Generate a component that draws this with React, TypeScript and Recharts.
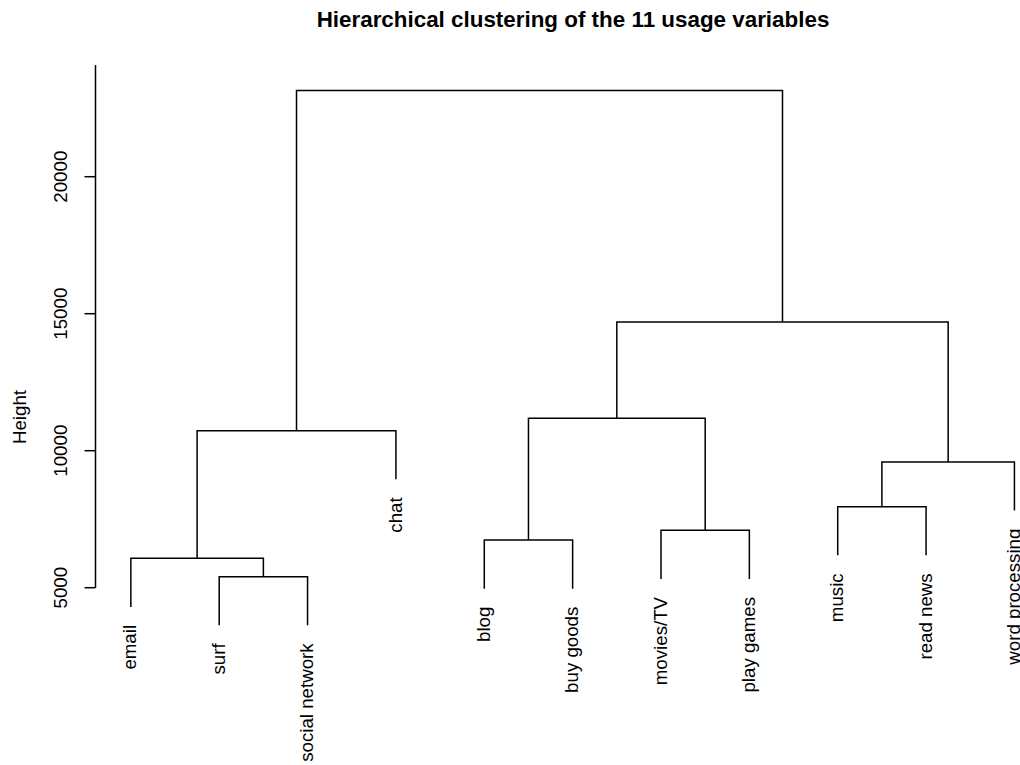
import React from 'react';
import { ComposedChart, Line, Scatter, XAxis, YAxis, ReferenceLine } from 'recharts';

// Leaf labels in dendrogram order
const leafLabels = [
  'email', 'surf', 'social network', 'chat', 'blog', 'buy goods',
  'movies/TV', 'play games', 'music', 'read news', 'word processing',
];
// Merge table (hclust style): negative = leaf index (1-based), positive = earlier merge row
const mergePairs: [number, number][] = [
  [-2, -3], [-1, 1], [-5, -6], [-7, -8], [-9, -10], [5, -11], [2, -4], [3, 4], [8, 6], [7, 9],
];
const mergeHeights = [5401, 6073, 6741, 7095, 7956, 9588, 10730, 11182, 14697, 23150];
const yTicks = [5000, 10000, 15000, 20000];
const HANG = 0.1;

const TITLE = 'Hierarchical clustering of the 11 usage variables';
const YLABEL = 'Height';
const FONT = '"Liberation Sans", Arial, Helvetica, sans-serif';

// Build dendrogram geometry in data units
const hMax = Math.max(...mergeHeights);
const hMin = Math.min(...mergeHeights);
const hangAmt = HANG * (hMax - hMin);
const nodeX: number[] = [];
mergePairs.forEach(([a, b], i) => {
  const xa = a < 0 ? -a : nodeX[a - 1];
  const xb = b < 0 ? -b : nodeX[b - 1];
  nodeX[i] = (xa + xb) / 2;
});
const segments = mergePairs.map(([a, b], i) => {
  const h = mergeHeights[i];
  const xa = a < 0 ? -a : nodeX[a - 1];
  const xb = b < 0 ? -b : nodeX[b - 1];
  const ya = a < 0 ? h - hangAmt : mergeHeights[a - 1];
  const yb = b < 0 ? h - hangAmt : mergeHeights[b - 1];
  return [
    { x: xa, y: ya },
    { x: xa, y: h },
    { x: xb, y: h },
    { x: xb, y: yb },
  ];
});
const leaves = leafLabels.map((label, k) => {
  const idx = k + 1;
  const row = mergePairs.findIndex(([a, b]) => a === -idx || b === -idx);
  return { x: idx, y: mergeHeights[row] - hangAmt, label };
});

const LeafLabel = (props: any) => {
  const { cx, cy, payload } = props;
  const px = cx;
  const py = cy + 18;
  return (
    <text
      x={px}
      y={py}
      dy="0.3em"
      transform={`rotate(-90 ${px} ${py})`}
      textAnchor="end"
      fontFamily={FONT}
      fontSize={18.7}
      fill="#000"
    >
      {payload.label}
    </text>
  );
};

const YTick = (props: any) => {
  const { x, y, payload } = props;
  const px = x - 17;
  return (
    <text
      x={px}
      y={y}
      transform={`rotate(-90 ${px} ${y})`}
      textAnchor="middle"
      fontFamily={FONT}
      fontSize={18.7}
      fill="#000"
    >
      {payload.value}
    </text>
  );
};

export default function App() {
  return (
    <div style={{ position: 'absolute', left: 0, top: 0, width: 1020, height: 765, background: '#fff' }}>
      <ComposedChart
        width={1020}
        height={765}
        margin={{ top: 65, right: 0, bottom: 40.3, left: 0 }}
      >
        <XAxis type="number" dataKey="x" domain={[0.6, 11.063]} hide />
        <YAxis
          type="number"
          dataKey="y"
          domain={[0, 24077]}
          ticks={yTicks}
          interval={0}
          width={95.5}
          axisLine={false}
          tickLine={{ stroke: '#000', strokeWidth: 1.5 }}
          tickSize={11}
          tickMargin={0}
          tick={<YTick />}
        />
        <ReferenceLine
          segment={[{ x: 0.6, y: yTicks[0] }, { x: 0.6, y: 24077 }]}
          stroke="#000"
          strokeWidth={1.5}
          ifOverflow="visible"
        />
        {segments.map((seg, i) => (
          <Line
            key={i}
            data={seg}
            dataKey="y"
            type="linear"
            stroke="#000"
            strokeWidth={1.5}
            dot={false}
            activeDot={false}
            isAnimationActive={false}
          />
        ))}
        <Scatter data={leaves} dataKey="y" shape={<LeafLabel />} isAnimationActive={false} />
      </ComposedChart>
      <svg
        width={1020}
        height={765}
        style={{ position: 'absolute', left: 0, top: 0, pointerEvents: 'none' }}
      >
        <text
          x={573}
          y={27}
          textAnchor="middle"
          fontFamily={FONT}
          fontWeight="bold"
          fontSize={22.4}
          fill="#000"
        >
          {TITLE}
        </text>
        <text
          x={26}
          y={417}
          transform="rotate(-90 26 417)"
          textAnchor="middle"
          fontFamily={FONT}
          fontSize={18.7}
          fill="#000"
        >
          {YLABEL}
        </text>
      </svg>
    </div>
  );
}
